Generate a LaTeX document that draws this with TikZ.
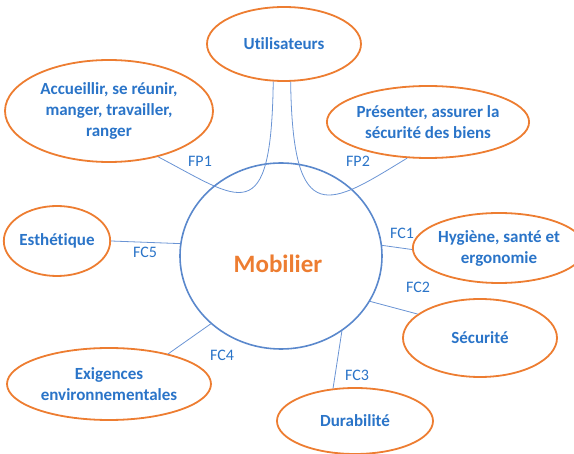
\documentclass[tikz,border=0pt]{standalone}
\usepackage{fontspec}
\setmainfont{Carlito}[Ligatures=NoCommon]
\usetikzlibrary{shapes.geometric}
\definecolor{txtblue}{HTML}{2A74C8}
\definecolor{circblue}{HTML}{5A88CC}
\definecolor{lineblue}{HTML}{6A94D4}
\definecolor{orng}{HTML}{ED7D31}
\tikzset{
  fn/.style={ellipse, draw=orng, line width=1.8pt, inner sep=0pt,
    text=txtblue, align=center, font=\fontsize{17}{21}\selectfont\bfseries},
  lbl/.style={text=txtblue, font=\fontsize{16}{19}\selectfont, inner sep=0pt},
  conn/.style={draw=lineblue, line width=0.8pt},
}
\begin{document}
\begin{tikzpicture}[x=1pt,y=-1pt]
\useasboundingbox (0,0) rectangle (574,454);
\node[ellipse, draw=circblue, line width=1.6pt, minimum width=202pt, minimum height=186pt, inner sep=0pt] (mob) at (281,256) {};
\node[text=orng, font=\fontsize{25}{30}\selectfont\bfseries] (mobt) at (278,264) {Mobilier};

\node[fn, minimum width=154pt, minimum height=74pt] (util) at (284,44) {Utilisateurs};
\node[fn, minimum width=208pt, minimum height=102pt] (acc) at (109,111) {Accueillir, se réunir,\\manger, travailler,\\ranger};
\node[fn, minimum width=190pt, minimum height=72pt] (pres) at (428,122) {Présenter, assurer la\\sécurité des biens};
\node[fn, minimum width=148pt, minimum height=70pt] (hyg) at (499,248) {Hygiène, santé et\\ergonomie};
\node[fn, minimum width=154pt, minimum height=78pt] (secu) at (480,338) {Sécurité};
\node[fn, minimum width=156pt, minimum height=66pt] (dur) at (355,421) {Durabilité};
\node[fn, minimum width=204pt, minimum height=72pt] (exig) at (109,384) {Exigences\\environnementales};
\node[fn, minimum width=94pt, minimum height=70pt] (esth) at (57,241) {Esthétique};

\draw[conn] (acc.317) .. controls +(82,43) and +(-2,150) .. (util.254);
\draw[conn] (pres.240) .. controls +(-77,47) and +(2,150) .. (util.280);
\draw[conn] (mob.6) -- (hyg.181);
\draw[conn] (mob.333) -- (secu.159);
\draw[conn] (mob.309) -- (dur.124);
\draw[conn] (mob.224) -- (exig.27);
\draw[conn] (mob.173) -- (esth.0);

\node[lbl] (fp1) at (200,161) {FP1};
\node[lbl] (fp2) at (358,161) {FP2};
\node[lbl] (fc1) at (402,233) {FC1};
\node[lbl] (fc2) at (418,287) {FC2};
\node[lbl] (fc3) at (357,375) {FC3};
\node[lbl] (fc4) at (222,355) {FC4};
\node[lbl] (fc5) at (145,252) {FC5};
\end{tikzpicture}
\end{document}
